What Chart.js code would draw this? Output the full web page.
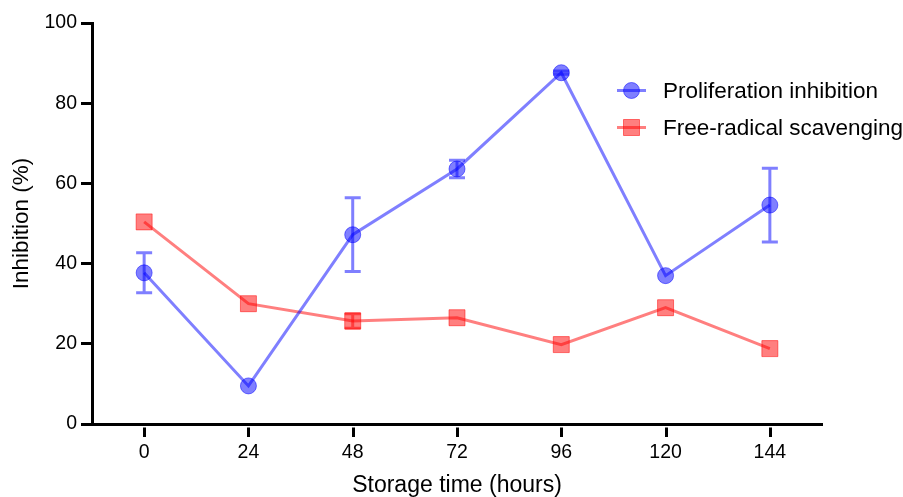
<!DOCTYPE html>
<html>
<head>
<meta charset="utf-8">
<script src="https://cdn.jsdelivr.net/npm/chart.js@4.4.1/dist/chart.umd.min.js"></script>
<style>
  html, body { margin: 0; padding: 0; background: #fff; }
  #wrap { width: 903px; height: 497px; position: relative; }
</style>
</head>
<body>
<div id="wrap"><canvas id="inhibitionChart"></canvas></div>
<script>
// storage time in hours (x categories)
const hours = ["0", "24", "48", "72", "96", "120", "144"]
const yTicks = [0, 20, 40, 60, 80, 100]

const prolifLabel = "Proliferation inhibition"
const prolifMean = [37.7, 9.5, 47.2, 63.6, 87.6, 37.0, 54.6]
const prolifErr = [5.0, 0, 9.2, 2.2, 0.4, 0, 9.2]

const scavLabel = "Free-radical scavenging"
const scavMean = [50.4, 30.0, 25.7, 26.5, 19.8, 29.0, 18.8]
const scavErr = [0, 0, 1.8, 0, 0, 0, 0]

const FONT = "'Liberation Sans', Arial, Helvetica, sans-serif"
const BLUE = "rgba(0, 0, 255, 0.5)"
const RED = "rgba(255, 0, 0, 0.5)"

// vertical error bars with caps, drawn through the scales
const errorBars = {
  id: "errorBars",
  afterDatasetsDraw(chart) {
    const ctx = chart.ctx
    const x = chart.scales.x
    const y = chart.scales.y
    chart.data.datasets.forEach((ds) => {
      if (!ds.errors) return
      ctx.save()
      ctx.strokeStyle = ds.borderColor
      ctx.lineWidth = 3
      ds.data.forEach((v, i) => {
        const e = ds.errors[i]
        if (!e) return
        const px = x.getPixelForValue(i)
        const top = y.getPixelForValue(v + e)
        const bot = y.getPixelForValue(v - e)
        ctx.beginPath()
        ctx.moveTo(px, top)
        ctx.lineTo(px, bot)
        ctx.moveTo(px - 8, top)
        ctx.lineTo(px + 8, top)
        ctx.moveTo(px - 8, bot)
        ctx.lineTo(px + 8, bot)
        ctx.stroke()
      })
      ctx.restore()
    })
  },
}

// x tick marks sit a little below the axis line
const offsetTicks = {
  id: "offsetTicks",
  afterDraw(chart) {
    const ctx = chart.ctx
    const x = chart.scales.x
    const b = chart.chartArea.bottom
    ctx.save()
    ctx.strokeStyle = "#000"
    ctx.lineWidth = 3
    x.ticks.forEach((t, i) => {
      const px = Math.round(x.getPixelForTick(i)) + 0.5
      ctx.beginPath()
      ctx.moveTo(px, b + 3.5)
      ctx.lineTo(px, b + 13)
      ctx.stroke()
    })
    ctx.restore()
  },
}

// legend inside the plot, top right
const insideLegend = {
  id: "insideLegend",
  afterDraw(chart) {
    const ctx = chart.ctx
    const rows = [90.5, 127.5]
    ctx.save()
    chart.data.datasets.forEach((ds, i) => {
      const ry = rows[i]
      ctx.strokeStyle = ds.borderColor
      ctx.lineWidth = 3
      ctx.beginPath()
      ctx.moveTo(617, ry)
      ctx.lineTo(646, ry)
      ctx.stroke()
      ctx.fillStyle = ds.pointBackgroundColor
      ctx.lineWidth = 1
      ctx.beginPath()
      if (ds.pointStyle === "rect") {
        ctx.rect(623.5, ry - 8, 16, 16)
      } else {
        ctx.arc(631.5, ry, 8, 0, Math.PI * 2)
      }
      ctx.fill()
      ctx.stroke()
      ctx.fillStyle = "#000"
      ctx.font = "22.5px " + FONT
      ctx.textBaseline = "middle"
      ctx.fillText(ds.label, 663, ry + 1)
    })
    ctx.restore()
  },
}

new Chart(document.getElementById("inhibitionChart"), {
  type: "line",
  data: {
    labels: hours,
    datasets: [
      {
        label: prolifLabel,
        data: prolifMean,
        errors: prolifErr,
        borderColor: BLUE,
        backgroundColor: BLUE,
        pointBackgroundColor: BLUE,
        pointBorderColor: BLUE,
        pointBorderWidth: 1,
        pointStyle: "circle",
        pointRadius: 8,
        borderWidth: 3,
        tension: 0,
      },
      {
        label: scavLabel,
        data: scavMean,
        errors: scavErr,
        borderColor: RED,
        backgroundColor: RED,
        pointBackgroundColor: RED,
        pointBorderColor: RED,
        pointBorderWidth: 1,
        pointStyle: "rect",
        pointRadius: 11.3,
        borderWidth: 3,
        tension: 0,
      },
    ],
  },
  options: {
    responsive: true,
    maintainAspectRatio: false,
    animation: false,
    layout: { padding: { left: 0, top: 23, right: 81, bottom: 0 } },
    plugins: {
      legend: { display: false },
      tooltip: { enabled: false },
    },
    scales: {
      x: {
        type: "category",
        offset: true,
        border: { display: true, color: "#000", width: 3 },
        grid: {
          display: true,
          drawOnChartArea: false,
          color: "transparent",
          tickLength: 12,
          offset: false,
        },
        ticks: {
          color: "#000",
          font: { family: FONT, size: 19.5 },
          padding: 5,
          maxRotation: 0,
        },
        title: {
          display: true,
          text: "Storage time (hours)",
          color: "#000",
          font: { family: FONT, size: 23, lineHeight: 1 },
          padding: 0,
        },
        afterFit: (scale) => {
          scale.height = 73
        },
      },
      y: {
        min: 0,
        max: 100,
        border: { display: true, color: "#000", width: 3 },
        grid: {
          drawOnChartArea: false,
          color: "#000",
          lineWidth: 3,
          tickLength: 11,
        },
        afterBuildTicks: (scale) => {
          scale.ticks = yTicks.map((v) => ({ value: v }))
        },
        ticks: {
          color: "#000",
          font: { family: FONT, size: 19.5 },
          padding: 4,
        },
        title: {
          display: true,
          text: "Inhibition (%)",
          color: "#000",
          font: { family: FONT, size: 22.5, lineHeight: 1 },
          padding: { top: 11, bottom: 0 },
        },
        afterFit: (scale) => {
          scale.width = 92
        },
      },
    },
  },
  plugins: [errorBars, offsetTicks, insideLegend],
})
</script>
</body>
</html>
